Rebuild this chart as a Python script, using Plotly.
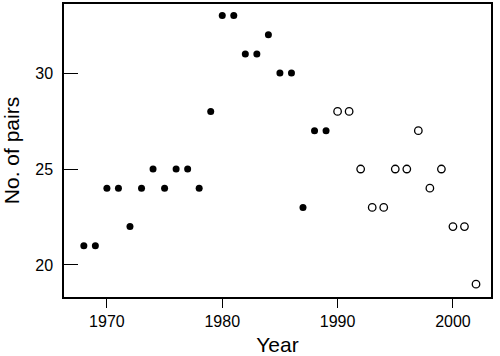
import plotly.graph_objects as go

years_filled = [1968, 1969, 1970, 1971, 1972, 1973, 1974, 1975, 1976, 1977, 1978,
                1979, 1980, 1981, 1982, 1983, 1984, 1985, 1986, 1987, 1988, 1989]
pairs_filled = [21, 21, 24, 24, 22, 24, 25, 24, 25, 25, 24,
                28, 33, 33, 31, 31, 32, 30, 30, 23, 27, 27]
years_open = [1990, 1991, 1992, 1993, 1994, 1995, 1996, 1997, 1998, 1999, 2000, 2001, 2002]
pairs_open = [28, 28, 25, 23, 23, 25, 25, 27, 24, 25, 22, 22, 19]
x_ticks = [1970, 1980, 1990, 2000]
y_ticks = [20, 25, 30]

FONT = "Liberation Sans, Arial, Helvetica, sans-serif"

fig = go.Figure()
fig.add_trace(go.Scatter(x=years_filled, y=pairs_filled, mode="markers",
                         marker=dict(symbol="circle", size=7, color="black",
                                     line=dict(width=0)),
                         showlegend=False))
fig.add_trace(go.Scatter(x=years_open, y=pairs_open, mode="markers",
                         marker=dict(symbol="circle-open", size=7.5, color="black",
                                     line=dict(width=1.3)),
                         showlegend=False))

fig.update_layout(
    width=500, height=356,
    margin=dict(l=64, r=9, t=4, b=59, autoexpand=False),
    paper_bgcolor="white", plot_bgcolor="white",
    font=dict(family=FONT, color="black", size=16),
    xaxis=dict(range=[1966.28, 2003.3], tickvals=x_ticks, ticks="outside",
               ticklen=9, tickwidth=1.2, tickcolor="black",
               showline=True, linecolor="black", linewidth=1.5, mirror=True,
               showgrid=False, zeroline=False, automargin=False,
               tickfont=dict(size=16),
               title=dict(text="Year", font=dict(size=21), standoff=10)),
    yaxis=dict(range=[18.33, 33.6], tickvals=y_ticks, ticks="inside",
               ticklen=14, tickwidth=1.2, tickcolor="black",
               showline=True, linecolor="black", linewidth=1.5, mirror=True,
               showgrid=False, zeroline=False, automargin=False,
               tickfont=dict(size=16), ticklabelstandoff=6,
               title=dict(text="No. of pairs", font=dict(size=21), standoff=11)),
)

fig.write_html("out.html", config={"displayModeBar": False},
               post_script="document.body.style.margin='0';document.body.style.overflow='hidden';")
